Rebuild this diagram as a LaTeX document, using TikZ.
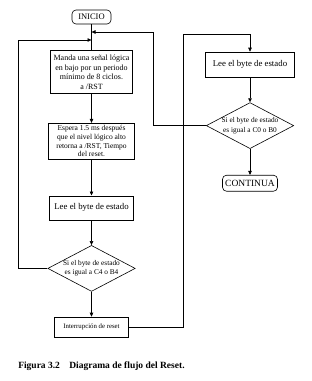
\documentclass[tikz,border=0pt]{standalone}
\usepackage{fontspec}
\setmainfont{Liberation Serif}
\usetikzlibrary{shapes.geometric, positioning, arrows.meta}

\begin{document}
\begin{tikzpicture}[x=1pt, y=-1pt, >={Triangle[length=4pt, width=3.5pt]}, line width=0.6pt,
    terminal/.style={draw, rounded corners=4pt, inner sep=1pt, minimum height=14pt},
    process/.style={draw, align=center, inner sep=1pt, font=\fontsize{7.5}{8.6}\selectfont},
    decision/.style={draw, diamond, aspect=1.9, inner sep=0pt, align=center,
        minimum width=87pt, minimum height=46pt, font=\fontsize{7.3}{9.5}\selectfont}]
    \useasboundingbox (0,0) rectangle (312,381);

    % columna izquierda
    \node[terminal, minimum width=39pt, font=\fontsize{8.5}{9}\selectfont] (inicio) at (91.5,17) {INICIO};
    \node[process, minimum width=82pt, minimum height=43pt, font=\fontsize{8}{9.5}\selectfont] (manda) [below=26pt of inicio]
        {Manda una señal lógica\\en bajo por un periodo\\mínimo de 8 ciclos.\\a /RST};
    \node[process, minimum width=86pt, minimum height=36pt] (espera) [below=29pt of manda]
        {Espera 1.5 ms después\\que el nivel lógico alto\\retorna a /RST, Tiempo\\del reset.};
    \node[process, minimum width=84pt, minimum height=24pt, font=\fontsize{8.8}{10}\selectfont] (lee1) [below=36pt of espera] {Lee el byte de estado};
    \node[decision] (si1) [below=25pt of lee1] {Si el byte de estado\\es igual a C4 o B4};
    \node[process, minimum width=74pt, minimum height=20pt, font=\fontsize{6.8}{8}\selectfont] (interr) [below=25pt of si1]
        {Interrupción de reset};

    % columna derecha
    \node[process, minimum width=89pt, minimum height=25pt, font=\fontsize{8.8}{10}\selectfont] (lee2) at (250,64.5) {Lee el byte de estado};
    \node[decision] (si2) [below=25pt of lee2] {Si el byte de estado\\es igual a C0 o B0};
    \node[terminal, minimum width=55pt, minimum height=16pt, font=\fontsize{9.5}{10}\selectfont] (cont) [below=26pt of si2] {CONTINUA};

    \coordinate (jr) at (91.5,32);
    \coordinate (jl) at (91.5,40);
    \coordinate (cr) at (153,32);
    \coordinate (cl) at (18,40);
    \coordinate (ct) at (183,34);

    \draw (inicio) -- (manda);
    \draw[->] (manda) -- (espera);
    \draw[->] (espera) -- (lee1);
    \draw[->] (lee1) -- (si1);
    \draw[->] (si1) -- (interr);
    \draw[->] (si1.west) -| (cl) -- (jl);
    \draw[->] (interr.east) -| (ct) -| (lee2.north);
    \draw[->] (lee2) -- (si2);
    \draw[->] (si2) -- (cont);
    \draw[->] (si2.west) -| (cr) -- (jr);

    \node[anchor=west, inner sep=0pt, font=\fontsize{9.5}{11}\selectfont\bfseries] (pie) at (18,366)
        {Figura 3.2\hspace{7pt} Diagrama de flujo del Reset.};
\end{tikzpicture}
\end{document}
